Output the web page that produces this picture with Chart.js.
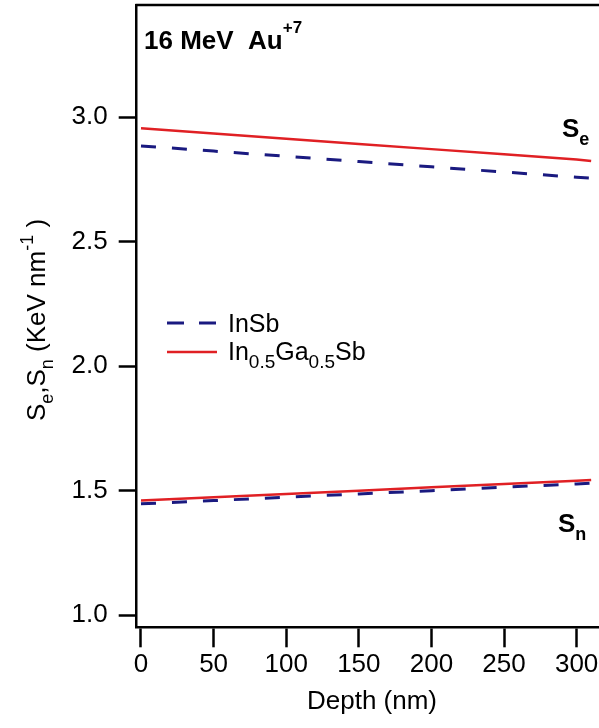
<!DOCTYPE html>
<html>
<head>
<meta charset="utf-8">
<title>Stopping power vs depth</title>
<script src="https://cdn.jsdelivr.net/npm/chart.js@4.4.0/dist/chart.umd.min.js"></script>
<style>
  html, body { margin: 0; padding: 0; background: #fff; overflow: hidden; }
  canvas { display: block; }
</style>
</head>
<body>
<canvas id="stopping" width="599" height="728"></canvas>
<script>
// depth in nm, stopping powers in keV/nm
const depthInSb = [0, 50, 100, 150, 200, 250, 300, 320];
const seInSb = [2.885, 2.864, 2.843, 2.822, 2.801, 2.780, 2.759, 2.751];
const snInSb = [1.447, 1.460, 1.474, 1.487, 1.500, 1.514, 1.527, 1.533];

const depthInGaSb = [0, 50, 100, 150, 200, 250, 300, 310];
const seInGaSb = [2.956, 2.935, 2.914, 2.893, 2.872, 2.851, 2.830, 2.824];
const snInGaSb = [1.460, 1.473, 1.487, 1.500, 1.514, 1.527, 1.540, 1.543];

const depthTicks = [0, 50, 100, 150, 200, 250, 300];
const stoppingTicks = [1.0, 1.5, 2.0, 2.5, 3.0];

const FONT = '"Liberation Sans", Arial, Helvetica, sans-serif';
const BLUE = 'rgb(26, 26, 128)';
const RED = 'rgb(224, 32, 36)';

function pts(xs, ys) {
  return xs.map((x, i) => ({ x: x, y: ys[i] }));
}

// draws a run of text pieces (normal / sub / superscript) from (x, y) baseline
function richText(ctx, x, y, parts) {
  let cx = x;
  parts.forEach(p => {
    ctx.font = (p.bold ? 'bold ' : '') + p.size + 'px ' + FONT;
    ctx.fillText(p.t, cx, y + (p.dy || 0));
    cx += ctx.measureText(p.t).width;
  });
  return cx - x;
}

function richWidth(ctx, parts) {
  let w = 0;
  parts.forEach(p => {
    ctx.font = (p.bold ? 'bold ' : '') + p.size + 'px ' + FONT;
    w += ctx.measureText(p.t).width;
  });
  return w;
}

const labelsPlugin = {
  id: 'labels',
  afterDraw(chart) {
    const ctx = chart.ctx;
    const area = chart.chartArea;
    ctx.save();

    // top frame line
    ctx.strokeStyle = '#000';
    ctx.lineWidth = 2.5;
    ctx.beginPath();
    ctx.moveTo(area.left - 1.25, area.top);
    ctx.lineTo(area.right, area.top);
    ctx.stroke();

    ctx.fillStyle = '#000';
    ctx.textBaseline = 'alphabetic';
    ctx.textAlign = 'left';

    // ion label
    richText(ctx, 144, 49, [
      { t: '16 MeV  Au', size: 26, bold: true },
      { t: '+7', size: 17, bold: true, dy: -16 }
    ]);

    // curve labels
    richText(ctx, 562, 137, [
      { t: 'S', size: 26, bold: true },
      { t: 'e', size: 18, bold: true, dy: 8 }
    ]);
    richText(ctx, 558, 532, [
      { t: 'S', size: 26, bold: true },
      { t: 'n', size: 18, bold: true, dy: 8 }
    ]);

    // legend
    ctx.lineWidth = 3;
    ctx.strokeStyle = BLUE;
    ctx.setLineDash([17, 15]);
    ctx.beginPath();
    ctx.moveTo(167, 323);
    ctx.lineTo(217, 323);
    ctx.stroke();
    ctx.setLineDash([]);
    ctx.lineWidth = 2.5;
    ctx.strokeStyle = RED;
    ctx.beginPath();
    ctx.moveTo(167, 352);
    ctx.lineTo(217, 352);
    ctx.stroke();

    richText(ctx, 228, 332, [{ t: 'InSb', size: 25 }]);
    richText(ctx, 228, 360, [
      { t: 'In', size: 25 },
      { t: '0.5', size: 19, dy: 8 },
      { t: 'Ga', size: 25 },
      { t: '0.5', size: 19, dy: 8 },
      { t: 'Sb', size: 25 }
    ]);

    // x axis title
    ctx.font = '26px ' + FONT;
    ctx.textAlign = 'center';
    ctx.fillText('Depth (nm)', 372, 709);

    // y axis title, rotated
    const yTitle = [
      { t: 'S', size: 26 },
      { t: 'e', size: 18, dy: 8 },
      { t: ',S', size: 26 },
      { t: 'n', size: 18, dy: 8 },
      { t: ' (KeV nm', size: 26 },
      { t: '-1', size: 18, dy: -12 },
      { t: ' )', size: 26 }
    ];
    ctx.textAlign = 'left';
    const w = richWidth(ctx, yTitle);
    ctx.translate(45, 320);
    ctx.rotate(-Math.PI / 2);
    richText(ctx, -w / 2, 0, yTitle);

    ctx.restore();
  }
};

const tickFont = { family: FONT, size: 26 };

new Chart(document.getElementById('stopping'), {
  type: 'line',
  data: {
    datasets: [
      {
        label: 'InSb Se',
        data: pts(depthInSb, seInSb),
        borderColor: BLUE,
        borderWidth: 3,
        borderDash: [15, 16]
      },
      {
        label: 'InSb Sn',
        data: pts(depthInSb, snInSb),
        borderColor: BLUE,
        borderWidth: 3,
        borderDash: [15, 16]
      },
      {
        label: 'In0.5Ga0.5Sb Se',
        data: pts(depthInGaSb, seInGaSb),
        borderColor: RED,
        borderWidth: 2.5
      },
      {
        label: 'In0.5Ga0.5Sb Sn',
        data: pts(depthInGaSb, snInGaSb),
        borderColor: RED,
        borderWidth: 2.5
      }
    ]
  },
  options: {
    responsive: false,
    animation: false,
    devicePixelRatio: 1,
    layout: { padding: { top: 5, right: 0, left: 0, bottom: 0 } },
    elements: {
      point: { radius: 0 },
      line: { tension: 0, fill: false, borderCapStyle: 'butt' }
    },
    plugins: {
      legend: { display: false },
      tooltip: { enabled: false }
    },
    scales: {
      x: {
        type: 'linear',
        position: 'bottom',
        min: -2.96,
        max: 315.4,
        afterFit: s => {
          s.height = 100.7;
          s.paddingLeft = 0;
          s.paddingRight = 0;
        },
        afterBuildTicks: s => { s.ticks = depthTicks.map(v => ({ value: v })); },
        grid: {
          drawOnChartArea: false,
          drawTicks: true,
          tickLength: 20,
          tickWidth: 2.5,
          tickColor: '#000'
        },
        border: { display: true, color: '#000', width: 2.5 },
        ticks: {
          color: '#000',
          font: tickFont,
          padding: 2,
          autoSkip: false,
          maxRotation: 0,
          includeBounds: false
        }
      },
      y: {
        type: 'linear',
        position: 'left',
        min: 0.951,
        max: 3.451,
        afterFit: s => {
          s.width = 136.7;
          s.paddingTop = 0;
          s.paddingBottom = 0;
        },
        afterBuildTicks: s => { s.ticks = stoppingTicks.map(v => ({ value: v })); },
        grid: {
          drawOnChartArea: false,
          drawTicks: true,
          tickLength: 18,
          tickWidth: 2.5,
          tickColor: '#000'
        },
        border: { display: true, color: '#000', width: 2.5 },
        ticks: {
          color: '#000',
          font: tickFont,
          padding: 11,
          includeBounds: false,
          callback: v => v.toFixed(1)
        }
      }
    }
  },
  plugins: [labelsPlugin]
});
</script>
</body>
</html>
